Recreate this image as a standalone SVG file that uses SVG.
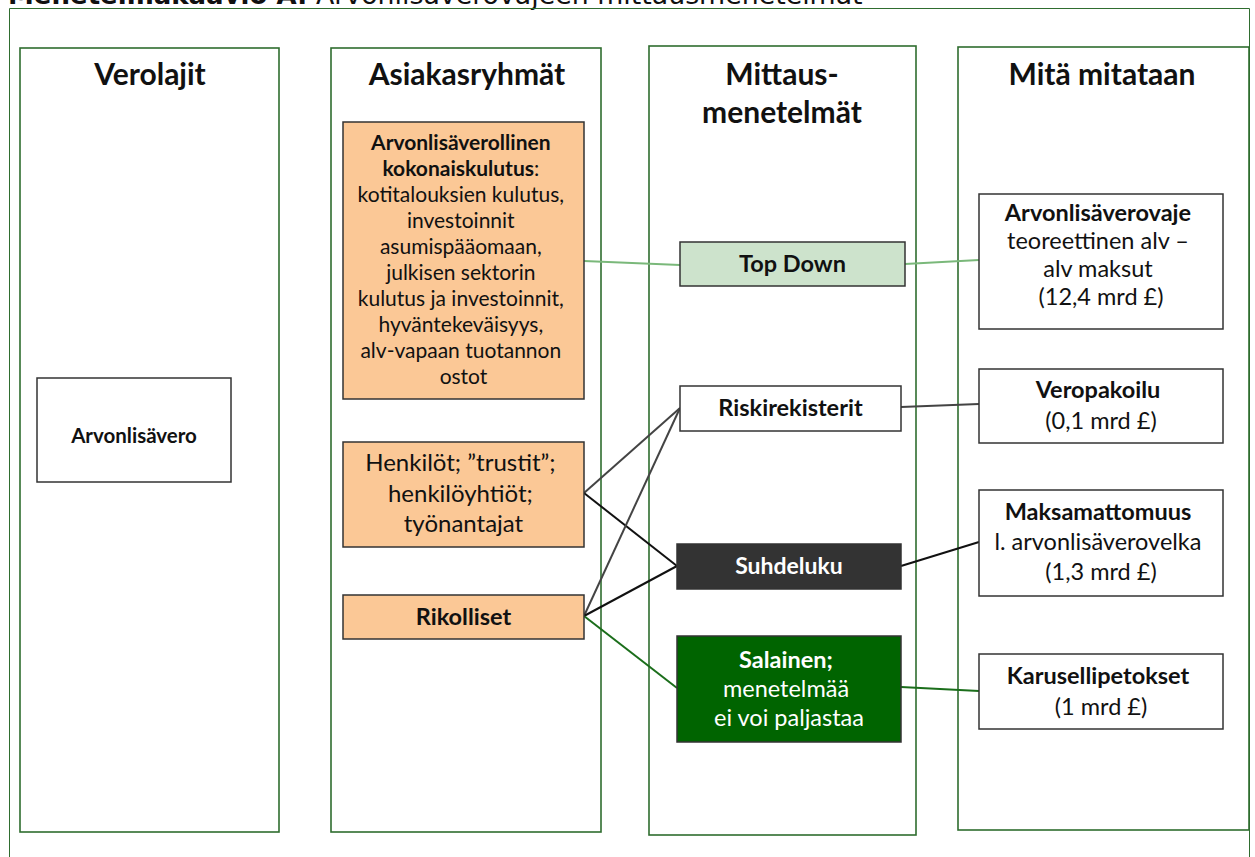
<svg xmlns="http://www.w3.org/2000/svg" width="1255" height="857" viewBox="0 0 1255 857">
<style>
.panel{fill:#fff;stroke:#2f6d2f;stroke-width:1.6}
.box{stroke:#333;stroke-width:1.5}
.t{font-family:Lato,"Liberation Sans",sans-serif;text-anchor:middle;fill:#111}
.h{font-size:30px;font-weight:bold}
.b{font-weight:bold}
.w{fill:#fff}
.c{fill:none;stroke-width:2}
</style>
<rect width="1255" height="857" fill="#fff"/>
<text x="8" y="4" font-family="'DejaVu Sans',sans-serif" font-size="26" fill="#111"><tspan font-weight="bold">Menetelmäkaavio A:</tspan><tspan font-size="26.8"> Arvonlisäverovajeen mittausmenetelmät</tspan></text>
<path d="M9.5 860 V8.5 H1249.5 V860" fill="none" stroke="#2f6d2f" stroke-width="1"/>

<g id="col-verolajit">
<rect class="panel" x="20" y="48" width="259" height="784"/>
<text class="t h" x="150" y="85">Verolajit</text>
</g>
<g id="col-asiakasryhmat">
<rect class="panel" x="331" y="48" width="270" height="784"/>
<text class="t h" x="467" y="85">Asiakasryhmät</text>
</g>
<g id="col-mittausmenetelmat">
<rect class="panel" x="649" y="46" width="267" height="789"/>
<text class="t h" x="782" y="85">Mittaus-</text>
<text class="t h" x="782" y="123">menetelmät</text>
</g>
<g id="col-mita-mitataan">
<rect class="panel" x="958" y="47" width="291" height="783"/>
<text class="t h" x="1102" y="85">Mitä mitataan</text>
</g>

<g id="connectors">
<path class="c" stroke="#7ab87a" d="M584 261 L680 265"/>
<path class="c" stroke="#7ab87a" d="M905 264 L979 260"/>
<path class="c" stroke="#444" d="M901 407 L979 404"/>
<path class="c" stroke="#111" d="M901 566 L979 542"/>
<path class="c" stroke="#1b6e1b" d="M901 687 L979 691"/>
<path class="c" stroke="#444" d="M584 493 L680 408"/>
<path class="c" stroke="#111" d="M584 493 L677 566"/>
<path class="c" stroke="#444" d="M584 616 L680 408"/>
<path class="c" stroke="#111" d="M584 616 L677 566"/>
<path class="c" stroke="#1b6e1b" d="M584 616 L677 688"/>
</g>

<g id="arvonlisavero">
<rect class="box" fill="#fff" x="37" y="378" width="194" height="104"/>
<text class="t b" x="134" y="443" font-size="20.5">Arvonlisävero</text>
</g>

<g id="kokonaiskulutus">
<rect class="box" fill="#fbc896" x="343" y="122" width="241" height="277"/>
<text class="t" font-size="21">
<tspan x="463.5" y="150" font-weight="bold">Arvonlisäverollinen</tspan>
<tspan x="463.5" y="176"><tspan font-weight="bold">kokonaiskulutus</tspan>:</tspan>
<tspan x="463.5" y="202">kotitalouksien kulutus,</tspan>
<tspan x="463.5" y="228">investoinnit</tspan>
<tspan x="463.5" y="254">asumispääomaan,</tspan>
<tspan x="463.5" y="280">julkisen sektorin</tspan>
<tspan x="463.5" y="306">kulutus ja investoinnit,</tspan>
<tspan x="463.5" y="332">hyväntekeväisyys,</tspan>
<tspan x="463.5" y="358">alv-vapaan tuotannon</tspan>
<tspan x="463.5" y="384">ostot</tspan>
</text>
</g>

<g id="henkilot">
<rect class="box" fill="#fbc896" x="343" y="442" width="241" height="105"/>
<text class="t" font-size="24">
<tspan x="463.5" y="471">Henkilöt; ”trustit”;</tspan>
<tspan x="463.5" y="502">henkilöyhtiöt;</tspan>
<tspan x="463.5" y="532">työnantajat</tspan>
</text>
</g>

<g id="rikolliset">
<rect class="box" fill="#fbc896" x="343" y="595" width="241" height="44"/>
<text class="t b" x="463.5" y="625" font-size="23.5">Rikolliset</text>
</g>

<g id="top-down">
<rect class="box" fill="#cde3cc" x="680" y="242" width="225" height="44"/>
<text class="t b" x="792.5" y="272" font-size="23.5">Top Down</text>
</g>

<g id="riskirekisterit">
<rect class="box" fill="#fff" x="680" y="386" width="221" height="45"/>
<text class="t b" x="790.5" y="416" font-size="23.5">Riskirekisterit</text>
</g>

<g id="suhdeluku">
<rect class="box" fill="#333" x="677" y="544" width="224" height="45"/>
<text class="t b w" x="789" y="574" font-size="23">Suhdeluku</text>
</g>

<g id="salainen">
<rect class="box" fill="#006400" x="677" y="636" width="224" height="106"/>
<text class="t w" font-size="23.5">
<tspan x="789" y="668" font-weight="bold">Salainen;</tspan>
<tspan x="789" y="697">menetelmää</tspan>
<tspan x="789" y="726">ei voi paljastaa</tspan>
</text>
</g>

<g id="arvonlisaverovaje">
<rect class="box" fill="#fff" x="979" y="194" width="244" height="135"/>
<text class="t" font-size="23.5">
<tspan x="1101" y="221" font-weight="bold">Arvonlisäverovaje</tspan>
<tspan x="1101" y="249">teoreettinen alv –</tspan>
<tspan x="1101" y="277">alv maksut</tspan>
<tspan x="1101" y="305">(12,4 mrd £)</tspan>
</text>
</g>

<g id="veropakoilu">
<rect class="box" fill="#fff" x="979" y="369" width="244" height="74"/>
<text class="t" font-size="23.5">
<tspan x="1101" y="398" font-weight="bold">Veropakoilu</tspan>
<tspan x="1101" y="429">(0,1 mrd £)</tspan>
</text>
</g>

<g id="maksamattomuus">
<rect class="box" fill="#fff" x="979" y="490" width="244" height="106"/>
<text class="t" font-size="23.5">
<tspan x="1101" y="520" font-weight="bold">Maksamattomuus</tspan>
<tspan x="1101" y="550">l. arvonlisäverovelka</tspan>
<tspan x="1101" y="580">(1,3 mrd £)</tspan>
</text>
</g>

<g id="karusellipetokset">
<rect class="box" fill="#fff" x="979" y="654" width="244" height="75"/>
<text class="t" font-size="23.5">
<tspan x="1101" y="684" font-weight="bold">Karusellipetokset</tspan>
<tspan x="1101" y="715">(1 mrd £)</tspan>
</text>
</g>
</svg>
